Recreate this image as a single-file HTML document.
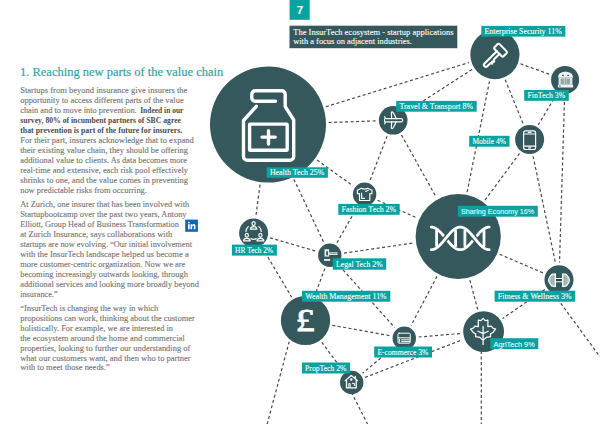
<!DOCTYPE html><html><head><meta charset="utf-8"><title>InsurTech ecosystem</title><style>html,body{margin:0;padding:0;background:#fff;width:600px;height:424px;overflow:hidden}svg{display:block;font-family:"Liberation Serif",serif}</style></head><body><svg width="600" height="424" viewBox="0 0 600 424">
<rect width="600" height="424" fill="#fff"/>
<text x="20.00" y="76.00" textLength="203.30" lengthAdjust="spacingAndGlyphs" font-family='"Liberation Serif", serif' font-size="12.6" font-weight="normal" fill="#30a6a2" stroke="#30a6a2" stroke-width="0.2" >1. Reaching new parts of the value chain</text>
<text x="20.20" y="93.30" textLength="167.20" lengthAdjust="spacingAndGlyphs" font-family='"Liberation Serif", serif' font-size="8.7" font-weight="normal" fill="#747474" stroke="#747474" stroke-width="0.12" >Startups from beyond insurance give insurers the</text>
<text x="20.20" y="103.28" textLength="163.50" lengthAdjust="spacingAndGlyphs" font-family='"Liberation Serif", serif' font-size="8.7" font-weight="normal" fill="#747474" stroke="#747474" stroke-width="0.12" >opportunity to access different parts of the value</text>
<text x="20.20" y="113.26" textLength="116.50" lengthAdjust="spacingAndGlyphs" font-family='"Liberation Serif", serif' font-size="8.7" font-weight="normal" fill="#747474" stroke="#747474" stroke-width="0.12" >chain and to move into prevention.</text>
<text x="140.20" y="113.26" textLength="43.20" lengthAdjust="spacingAndGlyphs" font-family='"Liberation Serif", serif' font-size="8.7" font-weight="bold" fill="#4c4c4c" >Indeed in our</text>
<text x="20.20" y="123.24" textLength="160.80" lengthAdjust="spacingAndGlyphs" font-family='"Liberation Serif", serif' font-size="8.7" font-weight="bold" fill="#4c4c4c" >survey, 80% of incumbent partners of SBC agree</text>
<text x="20.20" y="133.22" textLength="162.10" lengthAdjust="spacingAndGlyphs" font-family='"Liberation Serif", serif' font-size="8.7" font-weight="bold" fill="#4c4c4c" >that prevention is part of the future for insurers.</text>
<text x="20.20" y="143.20" textLength="173.50" lengthAdjust="spacingAndGlyphs" font-family='"Liberation Serif", serif' font-size="8.7" font-weight="normal" fill="#747474" stroke="#747474" stroke-width="0.12" >For their part, insurers acknowledge that to expand</text>
<text x="20.20" y="153.18" textLength="167.80" lengthAdjust="spacingAndGlyphs" font-family='"Liberation Serif", serif' font-size="8.7" font-weight="normal" fill="#747474" stroke="#747474" stroke-width="0.12" >their existing value chain, they should be offering</text>
<text x="20.20" y="163.16" textLength="166.90" lengthAdjust="spacingAndGlyphs" font-family='"Liberation Serif", serif' font-size="8.7" font-weight="normal" fill="#747474" stroke="#747474" stroke-width="0.12" >additional value to clients. As data becomes more</text>
<text x="20.20" y="173.14" textLength="167.80" lengthAdjust="spacingAndGlyphs" font-family='"Liberation Serif", serif' font-size="8.7" font-weight="normal" fill="#747474" stroke="#747474" stroke-width="0.12" >real-time and extensive, each risk pool effectively</text>
<text x="20.20" y="183.12" textLength="167.80" lengthAdjust="spacingAndGlyphs" font-family='"Liberation Serif", serif' font-size="8.7" font-weight="normal" fill="#747474" stroke="#747474" stroke-width="0.12" >shrinks to one, and the value comes in preventing</text>
<text x="20.20" y="193.10" textLength="126.70" lengthAdjust="spacingAndGlyphs" font-family='"Liberation Serif", serif' font-size="8.7" font-weight="normal" fill="#747474" stroke="#747474" stroke-width="0.12" >now predictable risks from occurring.</text>
<text x="20.20" y="207.00" textLength="169.00" lengthAdjust="spacingAndGlyphs" font-family='"Liberation Serif", serif' font-size="8.7" font-weight="normal" fill="#747474" stroke="#747474" stroke-width="0.12" >At Zurich, one insurer that has been involved with</text>
<text x="20.20" y="216.98" textLength="166.40" lengthAdjust="spacingAndGlyphs" font-family='"Liberation Serif", serif' font-size="8.7" font-weight="normal" fill="#747474" stroke="#747474" stroke-width="0.12" >Startupbootcamp over the past two years, Antony</text>
<text x="20.20" y="226.96" textLength="158.60" lengthAdjust="spacingAndGlyphs" font-family='"Liberation Serif", serif' font-size="8.7" font-weight="normal" fill="#747474" stroke="#747474" stroke-width="0.12" >Elliott, Group Head of Business Transformation</text>
<text x="20.20" y="236.94" textLength="152.10" lengthAdjust="spacingAndGlyphs" font-family='"Liberation Serif", serif' font-size="8.7" font-weight="normal" fill="#747474" stroke="#747474" stroke-width="0.12" >at Zurich Insurance, says collaborations with</text>
<text x="20.20" y="246.92" textLength="171.80" lengthAdjust="spacingAndGlyphs" font-family='"Liberation Serif", serif' font-size="8.7" font-weight="normal" fill="#747474" stroke="#747474" stroke-width="0.12" >startups are now evolving. “Our initial involvement</text>
<text x="20.20" y="256.90" textLength="168.50" lengthAdjust="spacingAndGlyphs" font-family='"Liberation Serif", serif' font-size="8.7" font-weight="normal" fill="#747474" stroke="#747474" stroke-width="0.12" >with the InsurTech landscape helped us become a</text>
<text x="20.20" y="266.88" textLength="165.10" lengthAdjust="spacingAndGlyphs" font-family='"Liberation Serif", serif' font-size="8.7" font-weight="normal" fill="#747474" stroke="#747474" stroke-width="0.12" >more customer-centric organization. Now we are</text>
<text x="20.20" y="276.86" textLength="167.70" lengthAdjust="spacingAndGlyphs" font-family='"Liberation Serif", serif' font-size="8.7" font-weight="normal" fill="#747474" stroke="#747474" stroke-width="0.12" >becoming increasingly outwards looking, through</text>
<text x="20.20" y="286.84" textLength="178.80" lengthAdjust="spacingAndGlyphs" font-family='"Liberation Serif", serif' font-size="8.7" font-weight="normal" fill="#747474" stroke="#747474" stroke-width="0.12" >additional services and looking more broadly beyond</text>
<text x="20.20" y="296.82" textLength="37.40" lengthAdjust="spacingAndGlyphs" font-family='"Liberation Serif", serif' font-size="8.7" font-weight="normal" fill="#747474" stroke="#747474" stroke-width="0.12" >insurance.”</text>
<text x="20.20" y="310.60" textLength="138.00" lengthAdjust="spacingAndGlyphs" font-family='"Liberation Serif", serif' font-size="8.7" font-weight="normal" fill="#747474" stroke="#747474" stroke-width="0.12" >“InsurTech is changing the way in which</text>
<text x="20.20" y="320.58" textLength="174.70" lengthAdjust="spacingAndGlyphs" font-family='"Liberation Serif", serif' font-size="8.7" font-weight="normal" fill="#747474" stroke="#747474" stroke-width="0.12" >propositions can work, thinking about the customer</text>
<text x="20.20" y="330.56" textLength="152.80" lengthAdjust="spacingAndGlyphs" font-family='"Liberation Serif", serif' font-size="8.7" font-weight="normal" fill="#747474" stroke="#747474" stroke-width="0.12" >holistically. For example, we are interested in</text>
<text x="20.20" y="340.54" textLength="164.50" lengthAdjust="spacingAndGlyphs" font-family='"Liberation Serif", serif' font-size="8.7" font-weight="normal" fill="#747474" stroke="#747474" stroke-width="0.12" >the ecosystem around the home and commercial</text>
<text x="20.20" y="350.52" textLength="170.10" lengthAdjust="spacingAndGlyphs" font-family='"Liberation Serif", serif' font-size="8.7" font-weight="normal" fill="#747474" stroke="#747474" stroke-width="0.12" >properties, looking to further our understanding of</text>
<text x="20.20" y="360.50" textLength="170.50" lengthAdjust="spacingAndGlyphs" font-family='"Liberation Serif", serif' font-size="8.7" font-weight="normal" fill="#747474" stroke="#747474" stroke-width="0.12" >what our customers want, and then who to partner</text>
<text x="20.20" y="370.48" textLength="89.60" lengthAdjust="spacingAndGlyphs" font-family='"Liberation Serif", serif' font-size="8.7" font-weight="normal" fill="#747474" stroke="#747474" stroke-width="0.12" >with to meet those needs.”</text>
<rect x="185.2" y="219.6" width="12.7" height="12.2" fill="#0a66b7"/>
<g fill="#fff"><rect x="188" y="224.3" width="1.7" height="5"/><circle cx="188.85" cy="222.6" r="0.95"/><path d="M190.5 224.3 H192.1 V225 Q192.8 224.1 194.0 224.1 Q195.5 224.2 195.5 226 V229.3 H193.8 V226.4 Q193.8 225.4 193.0 225.4 Q192.2 225.4 192.2 226.4 V229.3 H190.5 Z"/></g>
<rect x="289.6" y="0" width="20.1" height="19.8" fill="#08a3a1"/>
<text x="299.9" y="14.2" text-anchor="middle" font-family='"Liberation Sans", sans-serif' font-size="11.5" font-weight="bold" fill="#fff">7</text>
<rect x="289.5" y="25.7" width="167.8" height="22.5" fill="#35585c"/>
<text x="293.20" y="34.60" textLength="160.40" lengthAdjust="spacingAndGlyphs" font-family='"Liberation Serif", serif' font-size="8.2" font-weight="normal" fill="#ffffff" stroke="#ffffff" stroke-width="0.1" >The InsurTech ecosystem - startup applications</text>
<text x="293.20" y="44.00" textLength="118.80" lengthAdjust="spacingAndGlyphs" font-family='"Liberation Serif", serif' font-size="8.2" font-weight="normal" fill="#ffffff" stroke="#ffffff" stroke-width="0.1" >with a focus on adjacent industries.</text>
<line x1="325.9" y1="106.7" x2="468.9" y2="62.6" stroke="#4a4a4a" stroke-width="1.2" stroke-dasharray="3 2.5"/>
<line x1="328.6" y1="122.5" x2="376.3" y2="120.9" stroke="#4a4a4a" stroke-width="1.2" stroke-dasharray="3 2.5"/>
<line x1="317.1" y1="160.1" x2="353.0" y2="185.9" stroke="#4a4a4a" stroke-width="1.2" stroke-dasharray="3 2.5"/>
<line x1="260.0" y1="184.7" x2="255.9" y2="216.0" stroke="#4a4a4a" stroke-width="1.2" stroke-dasharray="3 2.5"/>
<line x1="293.9" y1="179.4" x2="323.7" y2="242.3" stroke="#4a4a4a" stroke-width="1.2" stroke-dasharray="3 2.5"/>
<line x1="472.1" y1="69.4" x2="407.4" y2="111.1" stroke="#4a4a4a" stroke-width="1.2" stroke-dasharray="3 2.5"/>
<line x1="520.5" y1="63.8" x2="549.5" y2="74.3" stroke="#4a4a4a" stroke-width="1.2" stroke-dasharray="3 2.5"/>
<line x1="505.2" y1="79.8" x2="523.1" y2="123.8" stroke="#4a4a4a" stroke-width="1.2" stroke-dasharray="3 2.5"/>
<line x1="489.5" y1="81.3" x2="467.1" y2="192.2" stroke="#4a4a4a" stroke-width="1.2" stroke-dasharray="3 2.5"/>
<line x1="556.6" y1="94.2" x2="538.3" y2="124.9" stroke="#4a4a4a" stroke-width="1.2" stroke-dasharray="3 2.5"/>
<line x1="564.6" y1="96.5" x2="559.5" y2="262.6" stroke="#4a4a4a" stroke-width="1.2" stroke-dasharray="3 2.5"/>
<line x1="387.1" y1="136.1" x2="369.8" y2="181.0" stroke="#4a4a4a" stroke-width="1.2" stroke-dasharray="3 2.5"/>
<line x1="401.5" y1="135.0" x2="436.1" y2="197.1" stroke="#4a4a4a" stroke-width="1.2" stroke-dasharray="3 2.5"/>
<line x1="519.5" y1="153.4" x2="485.0" y2="200.1" stroke="#4a4a4a" stroke-width="1.2" stroke-dasharray="3 2.5"/>
<line x1="533.1" y1="156.3" x2="555.5" y2="263.0" stroke="#4a4a4a" stroke-width="1.2" stroke-dasharray="3 2.5"/>
<line x1="377.6" y1="200.2" x2="417.0" y2="217.9" stroke="#4a4a4a" stroke-width="1.2" stroke-dasharray="3 2.5"/>
<line x1="357.5" y1="206.7" x2="336.9" y2="242.8" stroke="#4a4a4a" stroke-width="1.2" stroke-dasharray="3 2.5"/>
<line x1="344.0" y1="253.1" x2="413.5" y2="243.0" stroke="#4a4a4a" stroke-width="1.2" stroke-dasharray="3 2.5"/>
<line x1="270.0" y1="237.8" x2="316.1" y2="251.2" stroke="#4a4a4a" stroke-width="1.2" stroke-dasharray="3 2.5"/>
<line x1="262.3" y1="247.7" x2="291.6" y2="297.1" stroke="#4a4a4a" stroke-width="1.2" stroke-dasharray="3 2.5"/>
<line x1="324.8" y1="268.6" x2="315.0" y2="295.0" stroke="#4a4a4a" stroke-width="1.2" stroke-dasharray="3 2.5"/>
<line x1="339.4" y1="265.8" x2="394.7" y2="327.6" stroke="#4a4a4a" stroke-width="1.2" stroke-dasharray="3 2.5"/>
<line x1="499.7" y1="254.3" x2="543.3" y2="273.0" stroke="#4a4a4a" stroke-width="1.2" stroke-dasharray="3 2.5"/>
<line x1="469.9" y1="280.2" x2="477.7" y2="309.4" stroke="#4a4a4a" stroke-width="1.2" stroke-dasharray="3 2.5"/>
<line x1="437.0" y1="276.4" x2="411.0" y2="325.6" stroke="#4a4a4a" stroke-width="1.2" stroke-dasharray="3 2.5"/>
<line x1="544.9" y1="289.4" x2="502.5" y2="318.6" stroke="#4a4a4a" stroke-width="1.2" stroke-dasharray="3 2.5"/>
<line x1="332.3" y1="325.3" x2="390.2" y2="335.7" stroke="#4a4a4a" stroke-width="1.2" stroke-dasharray="3 2.5"/>
<line x1="321.8" y1="342.3" x2="343.2" y2="371.0" stroke="#4a4a4a" stroke-width="1.2" stroke-dasharray="3 2.5"/>
<line x1="418.6" y1="337.0" x2="460.7" y2="333.5" stroke="#4a4a4a" stroke-width="1.2" stroke-dasharray="3 2.5"/>
<line x1="393.4" y1="347.4" x2="362.6" y2="373.3" stroke="#4a4a4a" stroke-width="1.2" stroke-dasharray="3 2.5"/>
<line x1="365.0" y1="377.4" x2="462.1" y2="339.9" stroke="#4a4a4a" stroke-width="1.2" stroke-dasharray="3 2.5"/>
<line x1="551.0" y1="290.0" x2="600.0" y2="356.8" stroke="#4a4a4a" stroke-width="1.2" stroke-dasharray="3 2.5"/>
<line x1="294.9" y1="320.3" x2="267.2" y2="424.0" stroke="#4a4a4a" stroke-width="1.2" stroke-dasharray="3 2.5"/>
<line x1="346.4" y1="382.5" x2="367.5" y2="424.0" stroke="#4a4a4a" stroke-width="1.2" stroke-dasharray="3 2.5"/>
<line x1="481.3" y1="340.0" x2="481.3" y2="424.0" stroke="#4a4a4a" stroke-width="1.2" stroke-dasharray="3 2.5"/>
<circle cx="268.0" cy="124.6" r="58.0" fill="#35585c"/>
<circle cx="494.9" cy="54.6" r="24.6" fill="#35585c"/>
<circle cx="565.1" cy="79.9" r="14.0" fill="#35585c"/>
<circle cx="393.2" cy="120.3" r="14.3" fill="#35585c"/>
<circle cx="529.6" cy="139.6" r="14.5" fill="#35585c"/>
<circle cx="364.6" cy="194.3" r="11.7" fill="#35585c"/>
<circle cx="458.2" cy="236.5" r="42.6" fill="#35585c"/>
<circle cx="253.6" cy="233.0" r="14.5" fill="#35585c"/>
<circle cx="329.8" cy="255.2" r="11.7" fill="#35585c"/>
<circle cx="559.0" cy="279.7" r="14.5" fill="#35585c"/>
<circle cx="305.5" cy="320.5" r="24.6" fill="#35585c"/>
<circle cx="404.3" cy="338.2" r="11.7" fill="#35585c"/>
<circle cx="483.6" cy="331.6" r="20.4" fill="#35585c"/>
<circle cx="351.7" cy="382.5" r="11.7" fill="#35585c"/>
<g stroke="#fff" fill="none" stroke-linecap="round" stroke-linejoin="round" stroke-width="3.4"><path d="M275.5 101.3 H255.2 a3.4 3.4 0 0 1 -3.4 -3.4 V94.2 a3.4 3.4 0 0 1 3.4 -3.4 H281.8 a3.4 3.4 0 0 1 3.4 3.4 V106.5 L293.7 119.8 V156.4 a3.9 3.9 0 0 1 -3.9 3.9 H247.4 a3.9 3.9 0 0 1 -3.9 -3.9 V120.5 L256.3 106.3"/><rect x="249.6" y="124.1" width="37.6" height="26.2" rx="0.6"/><path d="M262 137.1 H275.2 M268.5 130.6 V144"/></g>
<g stroke="#fff" fill="none" stroke-linecap="round" stroke-linejoin="round" stroke-width="2.1" transform="translate(500.6,50.2) rotate(135)"><rect x="-3.5" y="-6.4" width="7" height="12.8" rx="1.6"/><path d="M3.5 1.9 H20.8 a1.9 1.9 0 0 0 0 -3.8 H16.4 L15.3 -3.6 L14 -1.9 L12.7 -3.6 L11.4 -1.9 H3.5"/></g>
<g><path d="M558.2 77.8 V75.9 Q558.6 73.3 561.5 72.4 L565.5 71.5 L569.5 72.4 Q572.4 73.3 572.8 75.9 V77.8 Z" fill="#eef2f2"/><ellipse cx="562.9" cy="75.4" rx="1.1" ry="0.7" fill="#35585c"/><ellipse cx="568.1" cy="75.4" rx="1.1" ry="0.7" fill="#35585c"/><rect x="558.6" y="77.8" width="13.8" height="7" fill="#dfe6e6"/><rect x="560.7" y="78.6" width="3.6" height="5.6" fill="#93a6a8"/><rect x="566.4" y="78.6" width="3.6" height="5.6" fill="#93a6a8"/><rect x="565.1" y="77.8" width="0.7" height="7" fill="#6d8486"/><rect x="557.9" y="84.8" width="15.2" height="2.7" fill="#eef2f2"/><rect x="559.3" y="85.6" width="1.2" height="1.2" fill="#35585c"/></g>
<g stroke="#fff" fill="none" stroke-linecap="round" stroke-linejoin="round" stroke-width="1.2"><path d="M386.3 118.6 H401.1 a1.6 1.6 0 0 1 0 3.2 H386.3 Q385.2 121.8 384.6 123.8 M386.3 118.6 Q385.2 118.6 384.6 116.6 M384.6 118.8 V121.6"/><path d="M391.7 118.6 Q391.4 114.5 391.4 112.2 Q392.2 111.4 393 112.4 Q395 115.5 396.2 118.6"/><path d="M391.7 121.8 Q391.4 125.9 391.4 128.2 Q392.2 129 393 128 Q395 124.9 396.2 121.8"/></g>
<g stroke="#fff" fill="none" stroke-linecap="round" stroke-linejoin="round" stroke-width="1.2"><rect x="523.6" y="130.9" width="12" height="18.6" rx="2"/><path d="M523.6 134 H535.6 M523.6 146.2 H535.6 M528.3 132.4 H530.9 M528.6 147.8 H530.6"/></g>
<g stroke="#fff" fill="none" stroke-linecap="round" stroke-linejoin="round" stroke-width="1.15"><path d="M361.5 188.2 L357.3 190.2 L357.4 193.8 L359.5 193.6 V200.5 H369.8 V193.6 L371.9 193.8 L372 190.2 L367.8 188.2 Q364.7 190 361.5 188.2 Z"/><path d="M361.6 193 V198.3 H364.5 M365.6 191.5 L368.3 190.2"/></g>
<g stroke="#fff" fill="none" stroke-linecap="round" stroke-linejoin="round" stroke-width="2.8"><path d="M436.6 231 V245.8 M455.6 230.8 V246 M464.9 230.8 V246 M484 231 V245.8"/><path d="M431.20,227.10 L431.70,227.12 L432.20,227.17 L432.70,227.25 L433.20,227.36 L433.70,227.51 L434.20,227.69 L434.70,227.90 L435.20,228.14 L435.70,228.42 L436.20,228.72 L436.70,229.05 L437.20,229.40 L437.70,229.79 L438.20,230.20 L438.70,230.63 L439.20,231.08 L439.70,231.56 L440.20,232.06 L440.70,232.57 L441.20,233.11 L441.70,233.66 L442.20,234.22 L442.70,234.79 L443.20,235.38 L443.70,235.97 L444.20,236.57 L444.70,237.18 L445.20,237.79 L445.70,238.40 L446.20,239.01 L446.70,239.62 L447.20,240.23 L447.70,240.83 L448.20,241.42 L448.70,242.01 L449.20,242.58 L449.70,243.14 L450.20,243.69 L450.70,244.23 L451.20,244.74 L451.70,245.24 L452.20,245.72 L452.70,246.17 L453.20,246.60 L453.70,247.01 L454.20,247.40 L454.70,247.75 L455.20,248.08 L455.70,248.38 L456.20,248.66 L456.70,248.90 L457.20,249.11 L457.70,249.29 L458.20,249.44 L458.70,249.55 L459.20,249.63 L459.70,249.68 L460.20,249.70 L460.70,249.68 L461.20,249.63 L461.70,249.55 L462.20,249.44 L462.70,249.29 L463.20,249.11 L463.70,248.90 L464.20,248.66 L464.70,248.38 L465.20,248.08 L465.70,247.75 L466.20,247.40 L466.70,247.01 L467.20,246.60 L467.70,246.17 L468.20,245.72 L468.70,245.24 L469.20,244.74 L469.70,244.23 L470.20,243.69 L470.70,243.14 L471.20,242.58 L471.70,242.01 L472.20,241.42 L472.70,240.83 L473.20,240.23 L473.70,239.62 L474.20,239.01 L474.70,238.40 L475.20,237.79 L475.70,237.18 L476.20,236.57 L476.70,235.97 L477.20,235.38 L477.70,234.79 L478.20,234.22 L478.70,233.66 L479.20,233.11 L479.70,232.57 L480.20,232.06 L480.70,231.56 L481.20,231.08 L481.70,230.63 L482.20,230.20 L482.70,229.79 L483.20,229.40 L483.70,229.05 L484.20,228.72 L484.70,228.42 L485.20,228.14 L485.70,227.90 L486.20,227.69 L486.70,227.51 L487.20,227.36 L487.70,227.25 L488.20,227.17 L488.70,227.12 L489.20,227.10"/><path d="M441.00,243.91 L441.50,243.37 L442.00,242.81 L442.50,242.24 L443.00,241.66 L443.50,241.07 L444.00,240.47 L444.50,239.86 L445.00,239.26 L445.50,238.64 L446.00,238.03 L446.50,237.42 L447.00,236.81 L447.50,236.21 L448.00,235.61 L448.50,235.02 L449.00,234.45 L449.50,233.88 L450.00,233.32 L450.50,232.79" stroke="#35585c" stroke-width="5.6" stroke-linecap="butt"/><path d="M470.00,232.89 L470.50,233.43 L471.00,233.99 L471.50,234.56 L472.00,235.14 L472.50,235.73 L473.00,236.33 L473.50,236.94 L474.00,237.54 L474.50,238.16 L475.00,238.77 L475.50,239.38 L476.00,239.99 L476.50,240.59 L477.00,241.19 L477.50,241.78 L478.00,242.35 L478.50,242.92 L479.00,243.48 L479.50,244.01" stroke="#35585c" stroke-width="5.6" stroke-linecap="butt"/><path d="M431.20,249.70 L431.70,249.68 L432.20,249.63 L432.70,249.55 L433.20,249.44 L433.70,249.29 L434.20,249.11 L434.70,248.90 L435.20,248.66 L435.70,248.38 L436.20,248.08 L436.70,247.75 L437.20,247.40 L437.70,247.01 L438.20,246.60 L438.70,246.17 L439.20,245.72 L439.70,245.24 L440.20,244.74 L440.70,244.23 L441.20,243.69 L441.70,243.14 L442.20,242.58 L442.70,242.01 L443.20,241.42 L443.70,240.83 L444.20,240.23 L444.70,239.62 L445.20,239.01 L445.70,238.40 L446.20,237.79 L446.70,237.18 L447.20,236.57 L447.70,235.97 L448.20,235.38 L448.70,234.79 L449.20,234.22 L449.70,233.66 L450.20,233.11 L450.70,232.57 L451.20,232.06 L451.70,231.56 L452.20,231.08 L452.70,230.63 L453.20,230.20 L453.70,229.79 L454.20,229.40 L454.70,229.05 L455.20,228.72 L455.70,228.42 L456.20,228.14 L456.70,227.90 L457.20,227.69 L457.70,227.51 L458.20,227.36 L458.70,227.25 L459.20,227.17 L459.70,227.12 L460.20,227.10 L460.70,227.12 L461.20,227.17 L461.70,227.25 L462.20,227.36 L462.70,227.51 L463.20,227.69 L463.70,227.90 L464.20,228.14 L464.70,228.42 L465.20,228.72 L465.70,229.05 L466.20,229.40 L466.70,229.79 L467.20,230.20 L467.70,230.63 L468.20,231.08 L468.70,231.56 L469.20,232.06 L469.70,232.57 L470.20,233.11 L470.70,233.66 L471.20,234.22 L471.70,234.79 L472.20,235.38 L472.70,235.97 L473.20,236.57 L473.70,237.18 L474.20,237.79 L474.70,238.40 L475.20,239.01 L475.70,239.62 L476.20,240.23 L476.70,240.83 L477.20,241.42 L477.70,242.01 L478.20,242.58 L478.70,243.14 L479.20,243.69 L479.70,244.23 L480.20,244.74 L480.70,245.24 L481.20,245.72 L481.70,246.17 L482.20,246.60 L482.70,247.01 L483.20,247.40 L483.70,247.75 L484.20,248.08 L484.70,248.38 L485.20,248.66 L485.70,248.90 L486.20,249.11 L486.70,249.29 L487.20,249.44 L487.70,249.55 L488.20,249.63 L488.70,249.68 L489.20,249.70"/></g>
<g stroke="#fff" fill="none" stroke-linecap="round" stroke-linejoin="round" stroke-width="1.2"><ellipse cx="253.6" cy="223.6" rx="1.6" ry="1.9"/><path d="M250.4 229.2 Q250.6 226.6 253.6 226.6 Q256.6 226.6 256.8 229.2 Z"/><ellipse cx="246.8" cy="235.3" rx="1.6" ry="1.9"/><path d="M243.4 240.8 Q243.6 238.3 246.8 238.3 Q250 238.3 250.2 240.8 Z"/><ellipse cx="260.4" cy="235.3" rx="1.6" ry="1.9"/><path d="M257 240.8 Q257.2 238.3 260.4 238.3 Q263.6 238.3 263.8 240.8 Z"/><path d="M248.3 226.6 Q246 228.5 246 231.5 M258.9 226.6 Q261.2 228.5 261.2 231.5 M251 238.6 Q253.6 240 256.2 238.6"/></g>
<g fill="#e4eaea"><rect x="324.5" y="249.2" width="4.6" height="7.4"/><rect x="329.1" y="252.3" width="8.3" height="2.7"/><rect x="324" y="259" width="6.2" height="1.9"/></g><rect x="326.2" y="251.3" width="1.8" height="4" fill="#35585c"/><path d="M330.2 253.65 H336.4" stroke="#6f8789" stroke-width="0.8"/>
<g transform="translate(305.3,331.4) scale(1.18,1)"><text x="0" y="0" text-anchor="middle" font-family='"Liberation Serif", serif' font-size="32" font-weight="normal" fill="#fff" stroke="#fff" stroke-width="0.9">£</text></g>
<g stroke="#fff" fill="none" stroke-linecap="round" stroke-linejoin="round" stroke-width="1.0"><rect x="398" y="333.2" width="12.2" height="10" rx="1"/><path d="M398 337.8 H410.2 M401.6 339.8 H409.6 M401.6 341.6 H409.6 M399.6 339.2 V342"/></g>
<g stroke="#fff" fill="none" stroke-linecap="round" stroke-linejoin="round" stroke-width="1.25"><path d="M483.1 318.4 L485.2 320.6 L487.9 320.2 L487.9 326.6 L491.3 326.1 L492.9 328.2 L495.6 329 L492.8 332.6 L490.5 333.8 L490.6 336.6 L486.3 337.4 L484.2 339.4 L483.1 339.6 L482 339.4 L479.9 337.4 L475.6 336.6 L475.7 333.8 L473.4 332.6 L470.6 329 L473.3 328.2 L474.9 326.1 L478.3 326.6 L478.3 320.2 L481 320.6 Z"/><path d="M483.1 326.3 V344.4 M478 331.2 L483.1 333.6 L488.2 331.2"/></g>
<g stroke="#fff" fill="none" stroke-linecap="round" stroke-linejoin="round" stroke-width="1.1"><rect x="555.2" y="278.5" width="7.6" height="3.3" fill="#2a4447"/><path d="M555.4 273.8 L551.7 274.4 Q548.6 277.6 548.4 280.2 Q548.6 282.8 551.7 286 L555.4 286.6 Z" fill="#b9c6c7"/><path d="M562.6 273.8 L566.3 274.4 Q569.4 277.6 569.6 280.2 Q569.4 282.8 566.3 286 L562.6 286.6 Z" fill="#b9c6c7"/></g><path d="M551.8 276.2 V284.2 M553.4 275.4 V285 M566.2 276.2 V284.2 M564.6 275.4 V285" stroke="#8a9c9e" stroke-width="0.7"/>
<g stroke="#fff" fill="none" stroke-linecap="round" stroke-linejoin="round" stroke-width="1.25"><path d="M345.3 380.6 L351.3 375.6 L357.4 380.6 M346.5 379.8 V387.9 H356.2 V379.8 M355.3 378.6 V376.4"/><path d="M348.8 387.6 V383.6 H350.2 V387.6 M352.4 383.4 H354.4 V385.6" stroke-width="1"/></g><circle cx="351.3" cy="379.5" r="1.25" fill="#fff"/>
<rect x="266.7" y="167.3" width="61.20" height="10.50" fill="#08a3a1"/>
<text x="269.90" y="175.30" textLength="54.40" lengthAdjust="spacingAndGlyphs" font-family='"Liberation Serif", serif' font-size="7.7" font-weight="normal" fill="#ffffff" stroke="#ffffff" stroke-width="0.1" >Health Tech 25%</text>
<rect x="481.3" y="25.9" width="84.10" height="10.70" fill="#08a3a1"/>
<text x="484.50" y="34.10" textLength="77.30" lengthAdjust="spacingAndGlyphs" font-family='"Liberation Serif", serif' font-size="7.7" font-weight="normal" fill="#ffffff" stroke="#ffffff" stroke-width="0.1" >Enterprise Security 11%</text>
<rect x="524.2" y="90.0" width="44.60" height="10.80" fill="#08a3a1"/>
<text x="527.40" y="98.30" textLength="37.80" lengthAdjust="spacingAndGlyphs" font-family='"Liberation Serif", serif' font-size="7.7" font-weight="normal" fill="#ffffff" stroke="#ffffff" stroke-width="0.1" >FinTech 3%</text>
<rect x="396.2" y="100.9" width="80.50" height="10.80" fill="#08a3a1"/>
<text x="399.40" y="109.20" textLength="73.70" lengthAdjust="spacingAndGlyphs" font-family='"Liberation Serif", serif' font-size="7.7" font-weight="normal" fill="#ffffff" stroke="#ffffff" stroke-width="0.1" >Travel &amp; Transport 8%</text>
<rect x="469.2" y="135.8" width="40.30" height="10.90" fill="#08a3a1"/>
<text x="472.40" y="144.20" textLength="33.50" lengthAdjust="spacingAndGlyphs" font-family='"Liberation Serif", serif' font-size="7.7" font-weight="normal" fill="#ffffff" stroke="#ffffff" stroke-width="0.1" >Mobile 4%</text>
<rect x="338.3" y="203.9" width="61.40" height="10.90" fill="#08a3a1"/>
<text x="341.50" y="212.30" textLength="54.60" lengthAdjust="spacingAndGlyphs" font-family='"Liberation Serif", serif' font-size="7.7" font-weight="normal" fill="#ffffff" stroke="#ffffff" stroke-width="0.1" >Fashion Tech 2%</text>
<rect x="457.8" y="205.8" width="80.00" height="10.90" fill="#08a3a1"/>
<text x="461.00" y="214.20" textLength="73.20" lengthAdjust="spacingAndGlyphs" font-family='"Liberation Sans", sans-serif' font-size="7.7" font-weight="normal" fill="#ffffff" stroke="#ffffff" stroke-width="0.05" >Sharing Economy 16%</text>
<rect x="231.9" y="244.6" width="45.00" height="11.00" fill="#08a3a1"/>
<text x="235.10" y="253.10" textLength="38.20" lengthAdjust="spacingAndGlyphs" font-family='"Liberation Serif", serif' font-size="7.7" font-weight="normal" fill="#ffffff" stroke="#ffffff" stroke-width="0.1" >HR Tech 2%</text>
<rect x="332.8" y="258.3" width="53.40" height="11.40" fill="#08a3a1"/>
<text x="336.00" y="267.20" textLength="46.60" lengthAdjust="spacingAndGlyphs" font-family='"Liberation Serif", serif' font-size="7.7" font-weight="normal" fill="#ffffff" stroke="#ffffff" stroke-width="0.1" >Legal Tech 2%</text>
<rect x="494.6" y="290.7" width="80.60" height="11.00" fill="#08a3a1"/>
<text x="497.80" y="299.20" textLength="73.80" lengthAdjust="spacingAndGlyphs" font-family='"Liberation Serif", serif' font-size="7.7" font-weight="normal" fill="#ffffff" stroke="#ffffff" stroke-width="0.1" >Fitness &amp; Wellness 3%</text>
<rect x="302.0" y="290.8" width="88.30" height="10.90" fill="#08a3a1"/>
<text x="305.20" y="299.20" textLength="81.50" lengthAdjust="spacingAndGlyphs" font-family='"Liberation Serif", serif' font-size="7.7" font-weight="normal" fill="#ffffff" stroke="#ffffff" stroke-width="0.1" >Wealth Management 11%</text>
<rect x="374.2" y="346.5" width="57.80" height="11.00" fill="#08a3a1"/>
<text x="377.40" y="355.00" textLength="51.00" lengthAdjust="spacingAndGlyphs" font-family='"Liberation Serif", serif' font-size="7.7" font-weight="normal" fill="#ffffff" stroke="#ffffff" stroke-width="0.1" >E-commerce 3%</text>
<rect x="490.3" y="338.2" width="48.00" height="11.00" fill="#08a3a1"/>
<text x="493.50" y="346.70" textLength="41.20" lengthAdjust="spacingAndGlyphs" font-family='"Liberation Sans", sans-serif' font-size="7.7" font-weight="normal" fill="#ffffff" stroke="#ffffff" stroke-width="0.05" >AgriTech 9%</text>
<rect x="301.9" y="362.5" width="48.20" height="11.00" fill="#08a3a1"/>
<text x="305.10" y="371.00" textLength="41.40" lengthAdjust="spacingAndGlyphs" font-family='"Liberation Serif", serif' font-size="7.7" font-weight="normal" fill="#ffffff" stroke="#ffffff" stroke-width="0.1" >PropTech 2%</text>
</svg></body></html>
